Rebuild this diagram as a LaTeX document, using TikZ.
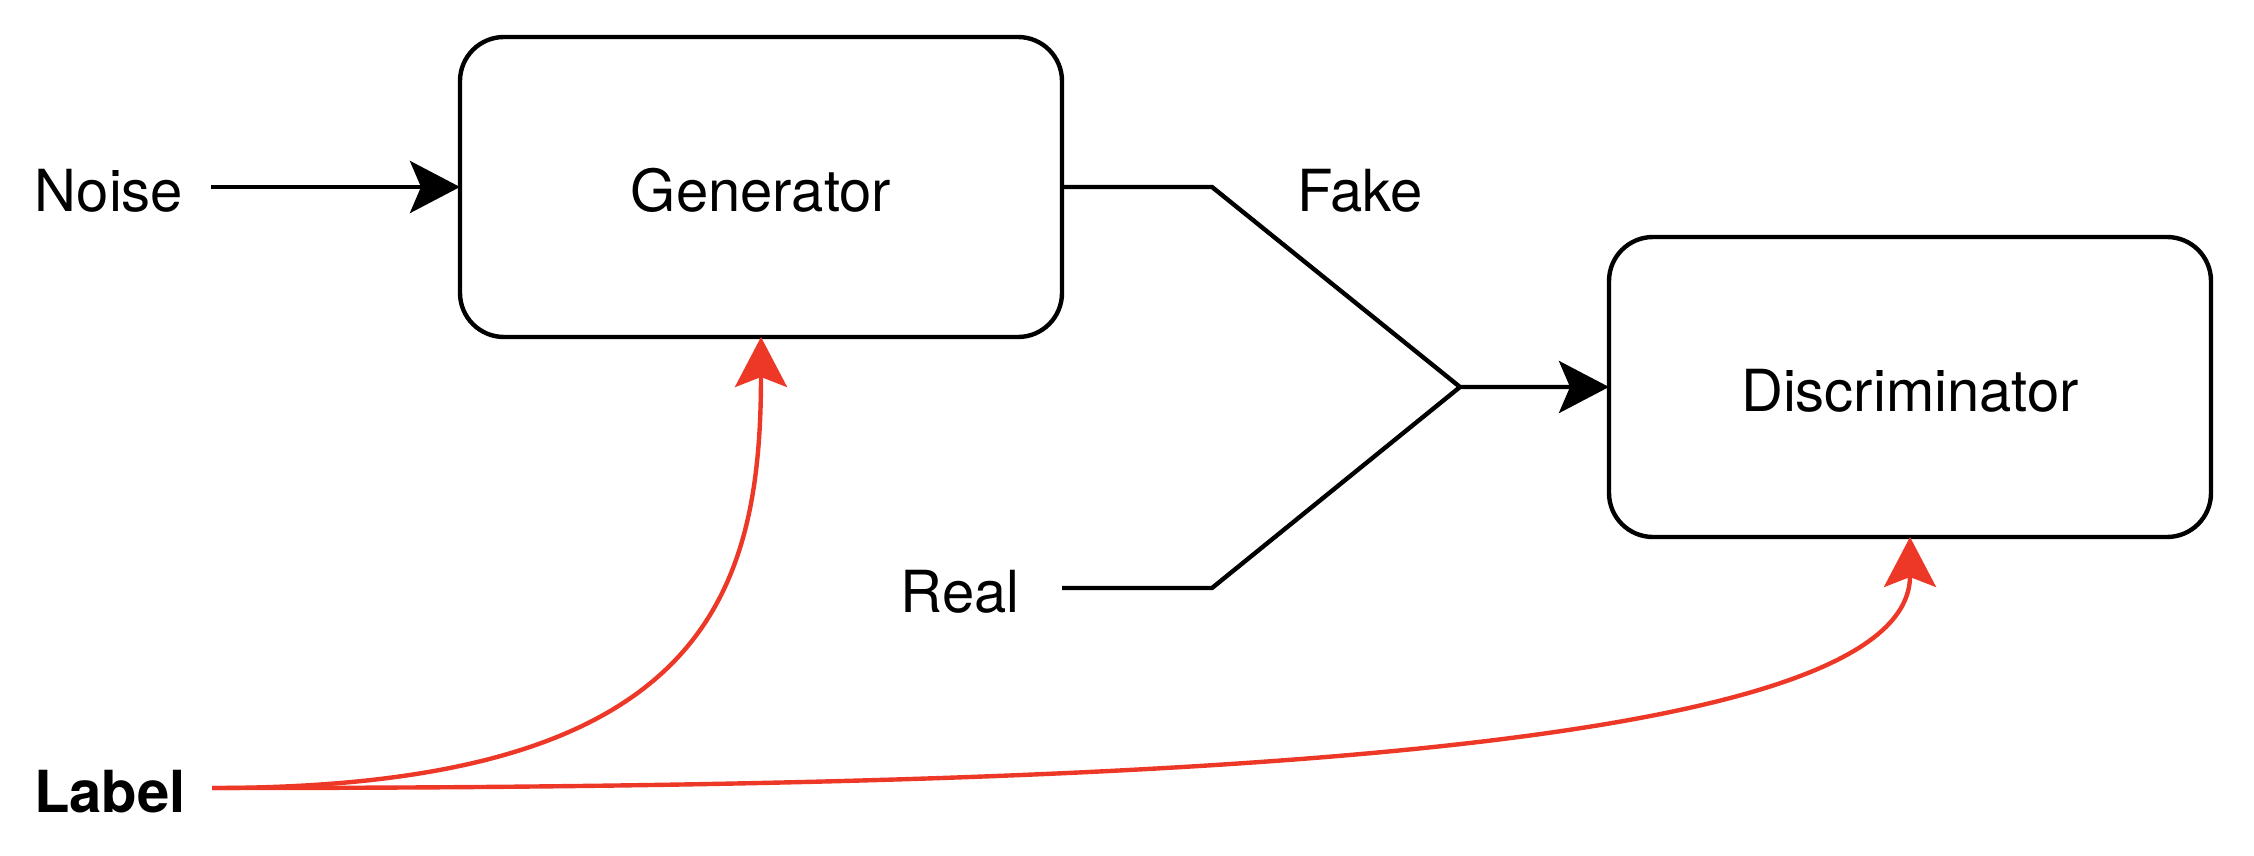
\documentclass[tikz,border=0pt]{standalone}
\usepackage{fontspec}
\setmainfont{TeX Gyre Heros}
\usepackage{tikz}
\usetikzlibrary{arrows.meta}
\definecolor{labelred}{RGB}{237,56,40}
\tikzset{
    block/.style={ draw, line width=2.2pt, rounded corners=22pt, minimum width=301pt, minimum height=150pt, text height=25pt, inner sep=0pt, outer sep=0pt },
    word/.style={ inner sep=0pt, outer sep=0pt, anchor=base },
    wire/.style={ line width=2.2pt, black },
    feed/.style={ wire, -{Stealth[length=25pt,width=26pt,inset=5.5pt]} },
    cond/.style={ line width=2.2pt, labelred, -{Stealth[length=25pt,width=26pt,inset=5pt]} }
}
\begin{document}
\begin{tikzpicture}[x=0.5pt,y=-0.5pt, every node/.style={font=\fontsize{29}{35}\selectfont}]
    \useasboundingbox (0,0) rectangle (2254,856);

    \node[block] (gen)  at (761,187)  {Generator};
    \node[block] (disc) at (1910,387) {Discriminator};

    \node[word] (noise) at (109,211) {Noise};
    \node[word] (fake)  at (1360,212) {Fake};
    \node[word] (real)  at (960,612)  {Real};
    \node[word] (label) at (110,812)  {\textbf{Label}};

    \coordinate (join)   at (1460,387);
    \coordinate (realin) at (1062,588);
    \coordinate (labout) at (212,788);

    \draw[feed, shorten <=14pt] (noise.east |- gen.west) -- (gen.west);
    \draw[feed] (gen.east) -- ++(150,0) -- (join) -- (disc.west);
    \draw[wire] (realin) -- ++(150,0) -- (join);

    \draw[cond] (labout) .. controls +(488,0) and +(0,263) .. (gen.south);
    \draw[cond] (labout) .. controls +(888,0) and +(0,223) .. (disc.south);
\end{tikzpicture}
\end{document}
